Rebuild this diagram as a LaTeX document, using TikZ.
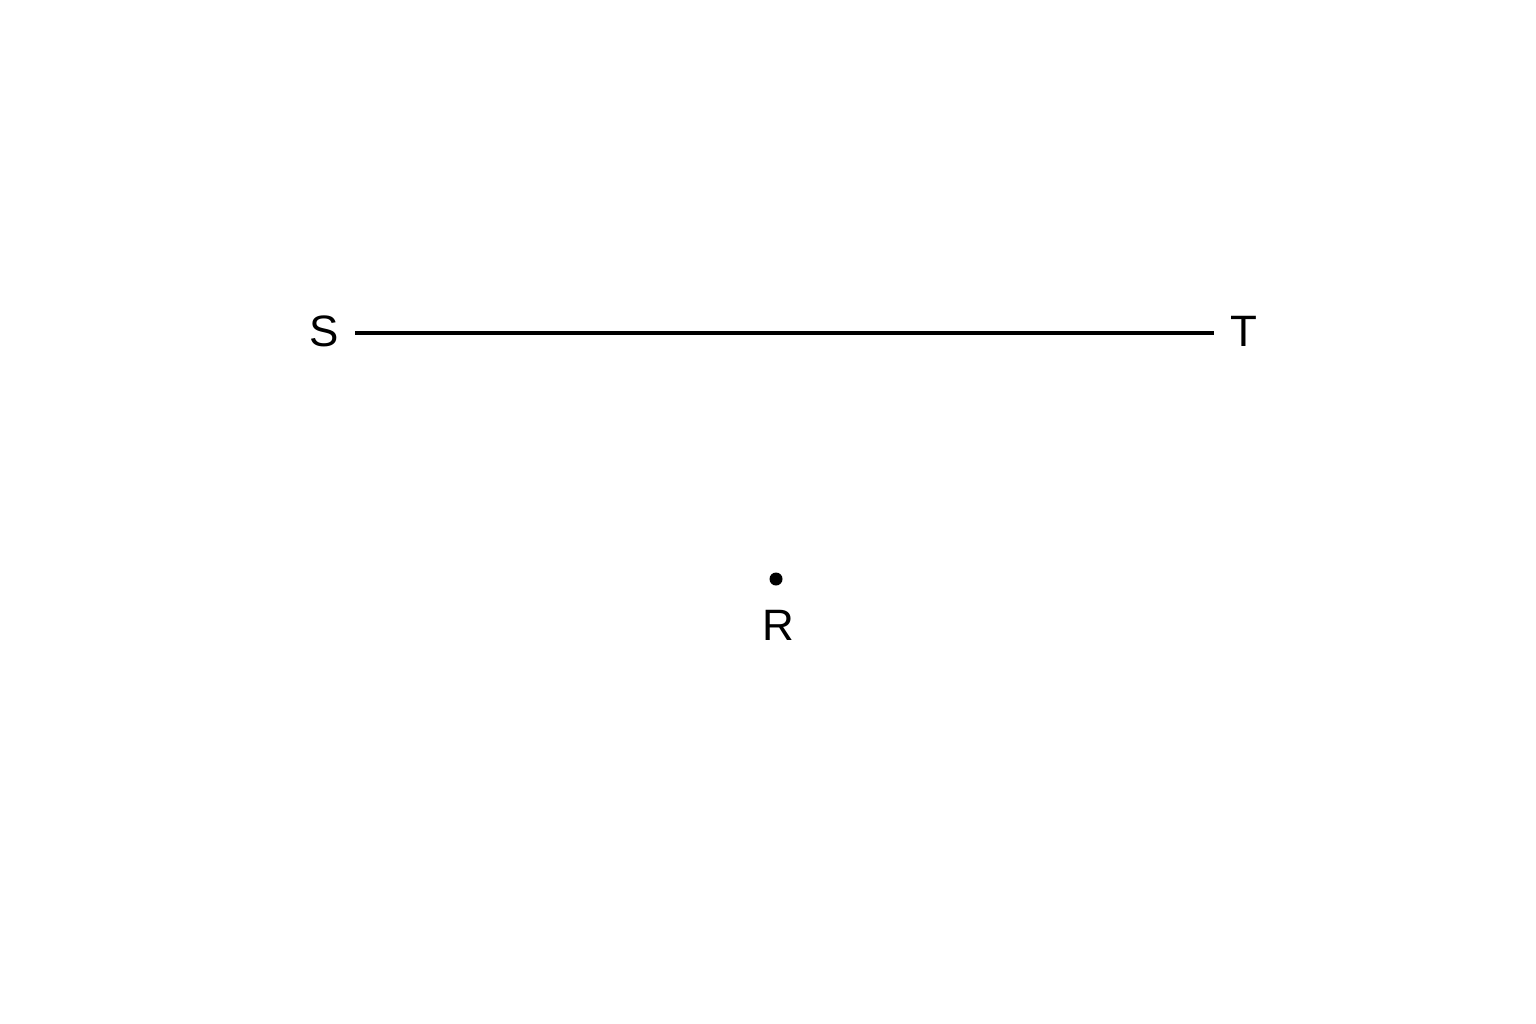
\documentclass[tikz,border=0pt]{standalone}
\usepackage{fontspec}
\setmainfont{Liberation Sans}
\begin{document}
\begin{tikzpicture}[x=0.01cm,y=-0.01cm,
  lbl/.style={inner sep=0pt,anchor=base,font=\fontsize{12.5pt}{14pt}\selectfont},
  seg/.style={line width=1pt,black},
  pt/.style={circle,fill=black,inner sep=0pt,minimum size=0.13cm}]
\useasboundingbox (0,0) rectangle (1536,1024);
\node[lbl] (S) at (324,346) {S};
\node[lbl] (T) at (1244,346) {T};
\coordinate (A) at (355,333);
\coordinate (B) at (1214,333);
\draw[seg] (A) -- (B);
\node[pt] (Rp) at (776,579) {};
\node[lbl] (R) at (778,640) {R};
\end{tikzpicture}
\end{document}
